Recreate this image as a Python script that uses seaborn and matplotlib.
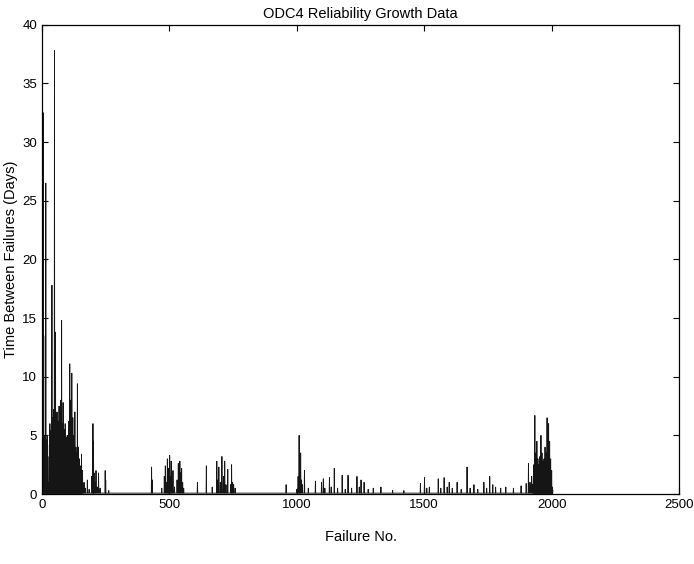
import numpy as np
import pandas as pd
import matplotlib
matplotlib.use("Agg")
import matplotlib.pyplot as plt
import seaborn as sns

# ---- data ----
n_failures = 2006
baseline_tbf = 0.08

early_no = list(range(1, 162, 2))
early_tbf = [4.8, 2.5, 32.5, 3.0, 4.9, 1.5, 13.5, 26.5, 4.6, 2.0,
             5.0, 3.2, 1.0, 0.6, 4.2, 6.0, 3.5, 5.4, 2.8, 17.8,
             6.5, 4.0, 7.2, 3.0, 37.8, 5.5, 13.8, 6.8, 2.5, 7.0,
             4.5, 6.2, 2.0, 7.5, 3.8, 5.0, 8.0, 3.0, 14.8, 6.0,
             4.0, 7.8, 2.5, 5.5, 3.6, 6.0, 1.5, 4.8, 3.0, 5.0,
             2.0, 4.0, 6.2, 3.5, 11.1, 5.0, 8.0, 3.0, 10.3, 4.2,
             6.5, 2.0, 5.0, 3.0, 7.0, 1.8, 4.0, 2.5, 3.5, 9.4,
             2.0, 4.0, 1.2, 3.0, 1.5, 2.4, 0.8, 3.4, 1.0, 2.0, 0.6]

tail_no = [165, 170, 178, 185, 195, 200, 202, 204, 208, 212, 216, 222, 228, 248, 250, 262]
tail_tbf = [1.0, 0.5, 1.2, 0.4, 1.5, 6.0, 4.5, 1.8, 1.0, 2.0, 0.6, 1.8, 0.5, 2.0, 1.2, 0.3]

mid_no = [430, 433, 470, 480, 484, 488, 492, 495, 498, 501, 504, 507, 510, 514, 520,
          530, 535, 538, 541, 544, 548, 552, 556, 610, 645, 668, 686, 690, 694, 700,
          706, 712, 717, 722, 729, 740, 744, 748, 752, 758]
mid_tbf = [2.3, 1.2, 0.5, 1.5, 2.4, 1.0, 3.0, 1.8, 2.2, 3.3, 1.5, 2.8, 1.0, 2.0, 0.6,
           1.2, 2.6, 1.4, 2.8, 1.8, 2.2, 1.0, 0.5, 1.0, 2.4, 0.6, 2.8, 1.2, 2.3, 1.0,
           3.2, 1.5, 2.8, 0.8, 2.1, 0.8, 2.5, 1.0, 0.8, 0.5]

late_no = [958, 1000, 1005, 1009, 1012, 1015, 1018, 1022, 1030, 1045, 1073, 1097, 1104,
           1110, 1128, 1135, 1147, 1160, 1178, 1190, 1201, 1215, 1236, 1245, 1252, 1264,
           1280, 1300, 1330, 1376, 1420, 1485, 1501, 1510, 1520, 1555, 1565, 1578, 1590,
           1598, 1610, 1629, 1645, 1668, 1680, 1695, 1710, 1734, 1745, 1757, 1769, 1780,
           1800, 1820, 1850, 1880, 1900, 1909, 1915, 1921, 1925]
late_tbf = [0.8, 0.4, 1.5, 5.0, 2.0, 3.5, 1.2, 0.8, 2.0, 0.5, 1.1, 1.0, 1.3,
            0.5, 1.4, 0.6, 2.2, 0.5, 1.6, 0.4, 1.6, 0.5, 1.5, 0.6, 1.2, 1.0,
            0.4, 0.5, 0.6, 0.3, 0.3, 0.9, 1.4, 0.5, 0.6, 1.3, 0.5, 1.4, 0.6,
            1.0, 0.5, 1.0, 0.4, 2.3, 0.5, 0.8, 0.4, 1.0, 0.5, 1.5, 0.8, 0.6,
            0.5, 0.6, 0.5, 0.7, 0.9, 2.6, 1.0, 1.5, 0.8]

final_no = list(range(1928, 2003, 2)) + [2005]
final_tbf = [1.5, 2.5, 1.0, 6.7, 2.0, 3.5, 1.2, 4.5, 2.0, 3.0,
             1.0, 2.5, 1.5, 3.2, 1.8, 5.0, 2.2, 3.5, 1.0, 2.8,
             1.5, 3.0, 2.0, 4.0, 1.2, 3.5, 2.0, 6.5, 2.5, 4.0,
             6.0, 2.0, 4.5, 1.5, 3.0, 1.0, 2.0, 0.6, 0.3]

x_ticks = [0, 500, 1000, 1500, 2000, 2500]
y_ticks = [0, 5, 10, 15, 20, 25, 30, 35, 40]

# ---- build the series ----
tbf = np.full(n_failures, baseline_tbf)
for nos, vals in [(early_no, early_tbf), (tail_no, tail_tbf), (mid_no, mid_tbf),
                  (late_no, late_tbf), (final_no, final_tbf)]:
    tbf[np.array(nos)] = vals
df = pd.DataFrame({"Failure No.": np.arange(n_failures), "TBF": tbf})

# ---- plot ----
sns.set_theme(style="white")
plt.rcParams['font.family'] = ['Liberation Sans', 'DejaVu Sans']

fig = plt.figure(figsize=(6.94, 5.64), dpi=100)
ax = fig.add_axes([0.0605, 0.124, 0.918, 0.832])
sns.lineplot(data=df, x="Failure No.", y="TBF", ax=ax, color="#151515",
             linewidth=0.65, estimator=None, sort=False)

ax.set_xlim(0, 2500)
ax.set_ylim(0, 40)
ax.set_xticks(x_ticks)
ax.set_yticks(y_ticks)
ax.tick_params(direction="in", length=4, width=0.8, labelsize=9.5, colors="black",
               top=True, right=True, bottom=True, left=True)
for s in ax.spines.values():
    s.set_visible(True)
    s.set_color("black")
    s.set_linewidth(0.9)
ax.set_xlabel("Failure No.", fontsize=10.5, color="black", labelpad=14)
ax.set_ylabel("Time Between Failures (Days)", fontsize=10.5, color="black", labelpad=3)
ax.set_title("ODC4 Reliability Growth Data", fontsize=10.5, color="black", pad=5)

fig.savefig("out.png", dpi=100, facecolor="white")
